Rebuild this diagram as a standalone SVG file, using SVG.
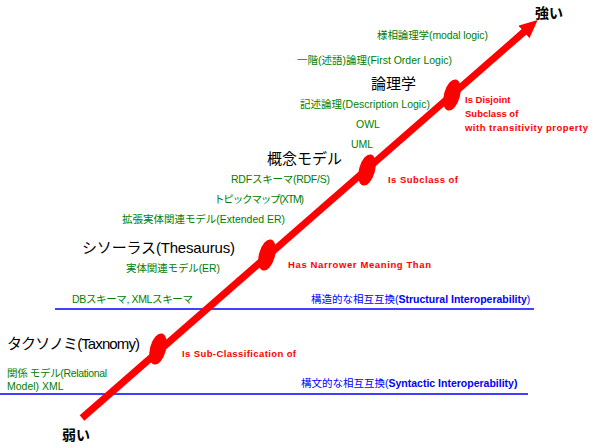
<svg xmlns="http://www.w3.org/2000/svg" width="599" height="448" viewBox="0 0 599 448">
<style>
text{font-family:"Liberation Sans","Noto Sans CJK JP",sans-serif}
.g{fill:#008000;font-size:10.5px}
.k{fill:#000;font-size:15px}
.r{fill:#ff0000;font-size:9.5px;font-weight:bold}
.b{fill:#0000ff;font-size:10.5px}
.bb{font-weight:bold}
.end{fill:#000;font-size:14px;font-weight:bold}
.hl{stroke:#0000ff;stroke-width:1.3}
.node{fill:#ff0000}
</style>
<defs>
<marker id="ah" markerWidth="2.6" markerHeight="2.4" refX="0.2" refY="1.2" orient="auto" markerUnits="strokeWidth">
<path d="M0,0 L2.6,1.2 L0,2.4 z" fill="#ff0000"/>
</marker>
</defs>
<g id="connectors">
<line class="hl" x1="55" y1="309" x2="534" y2="309"/>
<line class="hl" x1="0" y1="394" x2="528" y2="394"/>
<line x1="82" y1="418" x2="525" y2="31" stroke="#ff0000" stroke-width="7" marker-end="url(#ah)"/>
</g>
<g id="n1"><ellipse class="node" cx="158" cy="349" rx="8" ry="16" transform="rotate(15 158 349)"/></g>
<g id="n2"><ellipse class="node" cx="267" cy="255" rx="8" ry="16" transform="rotate(15 267 255)"/></g>
<g id="n3"><ellipse class="node" cx="367" cy="170" rx="8" ry="16" transform="rotate(15 367 170)"/></g>
<g id="n4"><ellipse class="node" cx="452" cy="95" rx="8" ry="16" transform="rotate(15 452 95)"/></g>
<g id="labels">
<text class="end" x="535" y="18">強い</text>
<text class="end" x="62" y="440">弱い</text>
<text class="g" x="377" y="39" textLength="111">様相論理学(modal logic)</text>
<text class="g" x="297" y="64" textLength="155">一階(述語)論理(First Order Logic)</text>
<text class="k" x="371" y="89">論理学</text>
<text class="g" x="300" y="108" textLength="130">記述論理(Description Logic)</text>
<text class="g" x="356" y="128">OWL</text>
<text class="g" x="351" y="148">UML</text>
<text class="k" x="267" y="164">概念モデル</text>
<text class="g" x="231" y="183" textLength="99">RDFスキーマ(RDF/S)</text>
<text class="g" x="214" y="203" textLength="90">トピックマップ(XTM)</text>
<text class="g" x="122" y="223" textLength="163">拡張実体関連モデル(Extended ER)</text>
<text class="k" x="82" y="253" textLength="153">シソーラス(Thesaurus)</text>
<text class="g" x="126" y="272" textLength="94">実体関連モデル(ER)</text>
<text class="g" x="72" y="303" textLength="121">DBスキーマ, XMLスキーマ</text>
<text class="k" x="7" y="349" textLength="133">タクソノミ(Taxnomy)</text>
<text class="g" x="7" y="377" textLength="100">関係 モデル(Relational</text>
<text class="g" x="7" y="390">Model) XML</text>
<text class="r" x="465" y="103">Is Disjoint</text>
<text class="r" x="465" y="117">Subclass of</text>
<text class="r" x="465" y="131" textLength="123">with transitivity property</text>
<text class="r" x="388" y="183" textLength="70">Is Subclass of</text>
<text class="r" x="288" y="268" textLength="143">Has Narrower Meaning Than</text>
<text class="r" x="182" y="357" textLength="114">Is Sub-Classification of</text>
<text class="b" x="311" y="303">構造的な相互互換(<tspan class="bb">Structural Interoperability</tspan>)</text>
<text class="b" x="301" y="387">構文的な相互互換(<tspan class="bb">Syntactic Interoperability)</tspan></text>
</g>
</svg>
